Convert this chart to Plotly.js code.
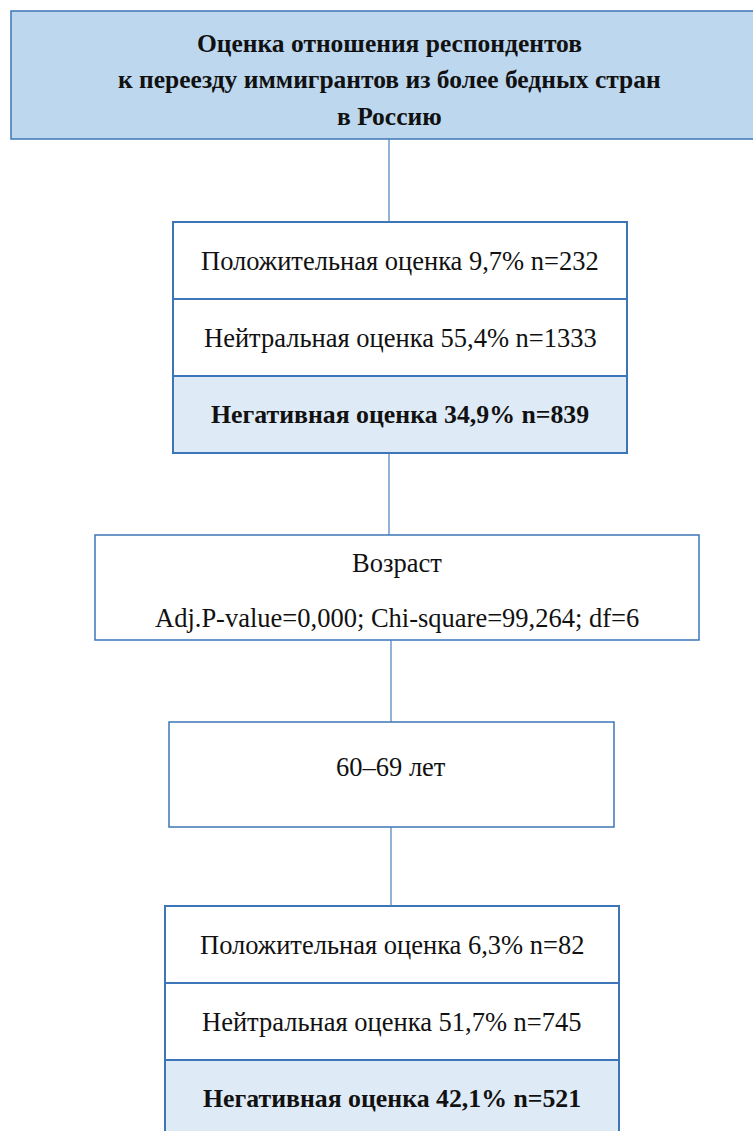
<!DOCTYPE html>
<html><head><meta charset="utf-8">
<script src="https://cdn.plot.ly/plotly-3.0.1.min.js"></script>
<style>html,body{margin:0;padding:0;background:#fff}#chart{width:753px;height:1131px}</style>
</head><body><div id="chart"></div>
<script>
// ---- data ----
const rootTitle = ["Оценка отношения респондентов", "к переезду иммигрантов из более бедных стран", "в Россию"];
const categories = ["Положительная оценка", "Нейтральная оценка", "Негативная оценка"];
const totalPct = [9.7, 55.4, 34.9];
const totalN = [232, 1333, 839];
const splitVariable = "Возраст";
const adjPValue = "0,000";
const chiSquare = "99,264";
const degreesFreedom = 6;
const nodeLabel = "60–69 лет";
const nodePct = [6.3, 51.7, 42.1];
const nodeN = [82, 745, 521];

// ---- styling / layout ----
const BORDER = "#3C76B8", LINE = "#4A7EBB", FILL_TITLE = "#BDD7EE", FILL_NEG = "#DEEAF6";
const FONT = "Liberation Serif";
const SIZE = 26.5, BSIZE = 25.8;
const shapes = [], ann = [];
function rect(x0, y0, x1, y1, fill, w) {
  shapes.push({type: "rect", xref: "x", yref: "y", x0, y0, x1, y1, fillcolor: fill, line: {color: BORDER, width: w || 1.5}, layer: "below"});
}
function vline(x, y0, y1) {
  shapes.push({type: "line", xref: "x", yref: "y", x0: x, x1: x, y0, y1, line: {color: LINE, width: 1.2}});
}
function txt(x, y, t, size, bold) {
  ann.push({x, y, xref: "x", yref: "y", text: bold ? "<b>" + t + "</b>" : t, showarrow: false,
    xanchor: "center", yanchor: "middle", font: {family: FONT, size, color: "#111"}});
}
const fmt = v => v.toFixed(1).replace(".", ",");
function distLines(pct, n) { return categories.map((c, i) => c + " " + fmt(pct[i]) + "% n=" + n[i]); }

// root
rect(11, 11, 760, 139, FILL_TITLE, 1.5);
const titleY = [43, 79, 116];
rootTitle.forEach((t, i) => txt(389, titleY[i], t, 25.5, true));
vline(389, 139, 222);

// totals box
function distBox(x0, x1, yTop, rowH, lines) {
  lines.forEach((l, i) => {
    const y0 = yTop + i * rowH, neg = i === lines.length - 1;
    rect(x0, y0, x1, y0 + rowH, neg ? FILL_NEG : "#ffffff", 2);
    txt((x0 + x1) / 2, y0 + rowH / 2, l, neg ? BSIZE : SIZE, neg);
  });
}
distBox(173, 627, 222, 77, distLines(totalPct, totalN));
vline(389, 453, 535);

// split box
rect(95, 535, 699, 640, "#ffffff", 1.5);
txt(397, 563, splitVariable, SIZE, false);
txt(397, 618, "Adj.P-value=" + adjPValue + "; Chi-square=" + chiSquare + "; df=" + degreesFreedom, SIZE, false);
vline(391, 640, 722);

// node box
rect(169, 722, 614, 827, "#ffffff", 1.5);
txt(391, 767, nodeLabel, SIZE, false);
vline(391, 827, 906);

// node distribution
distBox(165, 619, 906, 77, distLines(nodePct, nodeN));

const layout = {
  width: 753, height: 1131, margin: {l: 0, r: 0, t: 0, b: 0},
  paper_bgcolor: "#fff", plot_bgcolor: "#fff", showlegend: false,
  xaxis: {range: [0, 753], visible: false, fixedrange: true},
  yaxis: {range: [1131, 0], visible: false, fixedrange: true},
  shapes, annotations: ann
};
Plotly.newPlot("chart", [], layout, {displayModeBar: false, staticPlot: true});
</script></body></html>
